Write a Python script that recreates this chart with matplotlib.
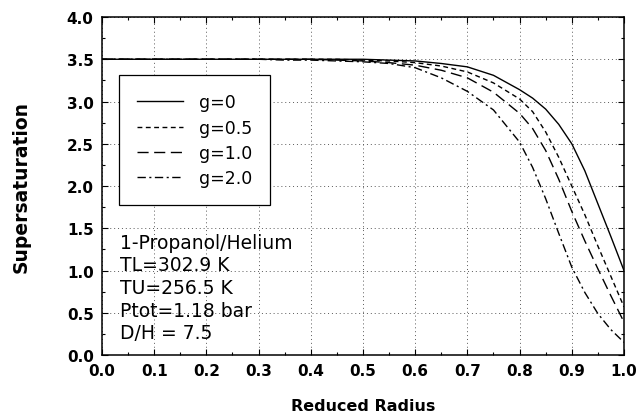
import numpy as np
import matplotlib
matplotlib.use("Agg")
import matplotlib.pyplot as plt
from matplotlib.ticker import MultipleLocator

r = [0.0, 0.1, 0.2, 0.3, 0.35, 0.4, 0.45, 0.5, 0.55, 0.6, 0.65, 0.7, 0.75,
     0.8, 0.825, 0.85, 0.875, 0.9, 0.925, 0.95, 0.975, 1.0]

s_g0 = [3.50, 3.50, 3.50, 3.50, 3.50, 3.50, 3.50, 3.50, 3.49, 3.48, 3.45, 3.41,
        3.31, 3.14, 3.04, 2.91, 2.73, 2.50, 2.18, 1.79, 1.40, 1.00]
s_g05 = [3.50, 3.50, 3.50, 3.50, 3.50, 3.50, 3.50, 3.49, 3.48, 3.46, 3.42, 3.35,
         3.22, 3.03, 2.88, 2.64, 2.34, 2.00, 1.66, 1.29, 0.93, 0.57]
s_g1 = [3.50, 3.50, 3.50, 3.50, 3.50, 3.50, 3.49, 3.48, 3.46, 3.43, 3.37, 3.28,
        3.11, 2.86, 2.68, 2.42, 2.08, 1.70, 1.35, 1.02, 0.70, 0.39]
s_g2 = [3.50, 3.50, 3.50, 3.50, 3.49, 3.49, 3.48, 3.47, 3.45, 3.40, 3.28, 3.12,
        2.90, 2.52, 2.22, 1.85, 1.44, 1.04, 0.74, 0.49, 0.30, 0.15]

labels = ["g=0", "g=0.5", "g=1.0", "g=2.0"]
styles = ["-", (0, (3.5, 2.5)), (0, (8, 4)), (0, (6, 2.5, 1.5, 2.5))]

info = "1-Propanol/Helium\nTL=302.9 K\nTU=256.5 K\nPtot=1.18 bar\nD/H = 7.5"

plt.rcParams['font.family'] = ['DejaVu Sans']

fig = plt.figure(figsize=(6.39, 4.14), dpi=100)
ax = fig.add_axes([0.1596, 0.140, 0.8169, 0.8165])

for y, lab, ls in zip([s_g0, s_g05, s_g1, s_g2], labels, styles):
    ax.plot(r, y, color="black", linestyle=ls, linewidth=1.0, label=lab)

ax.set_xlim(0, 1.0)
ax.set_ylim(0, 4.0)
ax.xaxis.set_major_locator(MultipleLocator(0.1))
ax.xaxis.set_minor_locator(MultipleLocator(0.05))
ax.yaxis.set_major_locator(MultipleLocator(0.5))
ax.yaxis.set_minor_locator(MultipleLocator(0.25))
ax.tick_params(which="both", direction="in", top=True, right=True, width=0.8)
ax.tick_params(which="major", length=4, labelsize=11, pad=6)
ax.tick_params(which="minor", length=2.5)
for lbl in ax.get_xticklabels() + ax.get_yticklabels():
    lbl.set_fontweight("bold")
ax.xaxis.set_major_formatter(plt.FormatStrFormatter("%.1f"))
ax.yaxis.set_major_formatter(plt.FormatStrFormatter("%.1f"))
for sp in ax.spines.values():
    sp.set_linewidth(1.1)

ax.grid(True, which="major", color="0.35", linestyle=(0, (1, 3)), linewidth=0.7)

ax.set_xlabel("Reduced Radius", fontsize=11.5, fontweight="bold", labelpad=14)
ax.set_ylabel("Supersaturation", fontsize=13.5, fontweight="bold", labelpad=26)

leg = ax.legend(loc="upper left", bbox_to_anchor=(0.0326, 0.828), borderaxespad=0,
                fontsize=12.5, handlelength=2.65, handletextpad=0.9,
                borderpad=1.05, labelspacing=0.42, fancybox=False,
                edgecolor="black", framealpha=1)
leg.get_frame().set_linewidth(0.9)

ax.text(0.0345, 0.20, info, transform=ax.transAxes, fontsize=13.5,
        va="center", ha="left", linespacing=1.24)

fig.savefig("out.png", dpi=100)
